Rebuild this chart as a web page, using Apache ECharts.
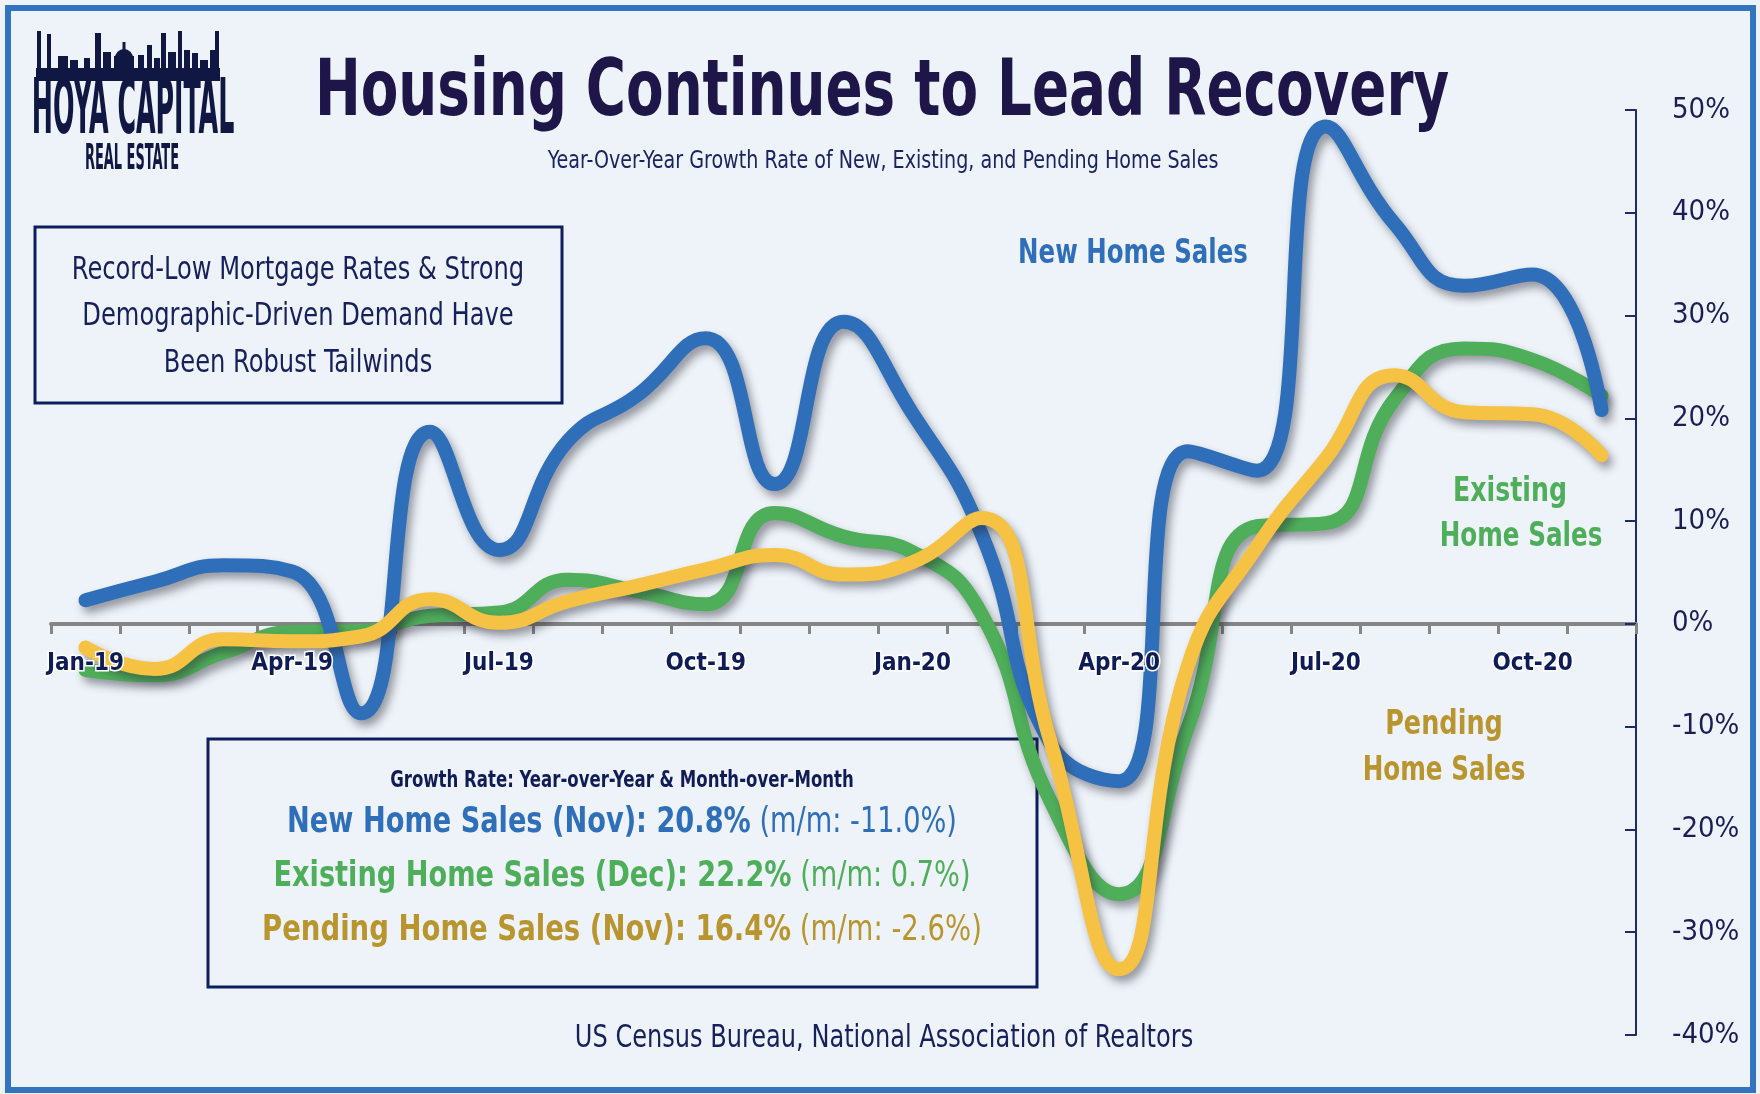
<!DOCTYPE html>
<html>
<head>
<meta charset="utf-8">
<script src="https://cdn.jsdelivr.net/npm/echarts@6/dist/echarts.min.js"></script>
<style>
  html, body { margin: 0; padding: 0; background: #f5f8fc; }
  #chart { width: 1760px; height: 1094px; }
</style>
</head>
<body>
<div id="chart"></div>
<script>
// month categories, Jan-19 .. Nov-20
const months = ['Jan-19', 'Feb-19', 'Mar-19', 'Apr-19', 'May-19', 'Jun-19', 'Jul-19', 'Aug-19', 'Sep-19', 'Oct-19', 'Nov-19', 'Dec-19',
  'Jan-20', 'Feb-20', 'Mar-20', 'Apr-20', 'May-20', 'Jun-20', 'Jul-20', 'Aug-20', 'Sep-20', 'Oct-20', 'Nov-20'];

// year-over-year growth, %
const newHome = [2.3, 4.1, 5.7, 5.1, -8.7, 18.7, 7.2, 17.8, 22.2, 27.8, 13.6, 29.4,
  20.5, 8.8, -11.6, -15.3, 16.8, 14.9, 48.4, 38.9, 32.9, 34.0, 20.8];
const existingHome = [-4.5, -5.0, -2.8, -0.8, -0.7, 0.8, 1.1, 4.3, 3.2, 1.9, 10.8, 8.5,
  7.0, 1.0, -17.2, -26.3, -10.0, 9.5, 9.8, 21.9, 26.8, 25.7, 22.2];
const pendingHome = [-2.3, -4.4, -1.5, -1.7, -1.2, 2.4, 0.1, 2.2, 3.7, 5.3, 6.7, 4.8,
  6.0, 10.3, -11.4, -33.6, -4.0, 7.5, 16.1, 24.2, 20.6, 20.4, 16.4];

const yMin = -40;
const yMax = 50;
const yStep = 10;

const COND = "'DejaVu Sans Condensed', 'Liberation Sans Narrow', sans-serif";
const NAVY = '#16205a';
const BLUE = '#2f6fba';
const GREEN = '#4fae5a';
const YELLOW = '#f5c243';
const GOLD = '#b8952e';

const W = 1760, H = 1094;
const grid = { left: 51, right: 124, top: 110, bottom: 59 };
const gridH = H - grid.top - grid.bottom;
// second x axis (labels only) sits on the zero line, above the series
const labelAxisOffset = -gridH * (0 - yMin) / (yMax - yMin);

const chart = echarts.init(document.getElementById('chart'), null, { renderer: 'canvas' });

function lineSeries(name, data, color, z) {
  return {
    name: name,
    type: 'line',
    data: data,
    smooth: 0.5,
    showSymbol: false,
    z: z,
    lineStyle: {
      color: color,
      width: 14,
      cap: 'round',
      join: 'round',
      shadowColor: 'rgba(40,40,50,0.45)',
      shadowBlur: 8,
      shadowOffsetX: 4,
      shadowOffsetY: 6
    }
  };
}

// condensed text helper: centred at (x, y), squeezed horizontally
function label(text, x, y, font, fill, sx) {
  return {
    type: 'text', x: x, y: y, scaleX: sx,
    style: { text: text, align: 'center', verticalAlign: 'middle', fill: fill, font: font }
  };
}

function richLine(bold, rest, x, y, fill, sx) {
  return {
    type: 'text', x: x, y: y, scaleX: sx,
    style: {
      text: '{b|' + bold + '}{r| ' + rest + '}', align: 'center', verticalAlign: 'middle',
      rich: {
        b: { fill: fill, fontFamily: COND, fontWeight: 'bold', fontSize: 36 },
        r: { fill: fill, fontFamily: COND, fontSize: 36 }
      }
    }
  };
}

// skyline for the logo: [x, top, width]
const towers = [
  [37, 31, 4], [47, 34, 4], [58, 56, 10], [70, 60, 8], [84, 58, 6], [95, 33, 6], [103, 52, 8],
  [114, 56, 20], [138, 55, 6], [147, 45, 5], [154, 58, 6], [161, 33, 5], [168, 52, 8],
  [178, 31, 4], [184, 50, 6], [192, 53, 6], [200, 60, 8], [210, 50, 5], [215, 31, 4]
];
const skyline = towers.map(t => ({
  type: 'rect', shape: { x: t[0], y: t[1], width: t[2], height: 80 - t[1] },
  style: { fill: '#0f1742' }
}));
skyline.push({ type: 'rect', shape: { x: 36, y: 68, width: 184, height: 13 }, style: { fill: '#0f1742' } });
skyline.push({ type: 'circle', shape: { cx: 124, cy: 58, r: 9 }, style: { fill: '#0f1742' } });
skyline.push({ type: 'rect', shape: { x: 122.5, y: 42, width: 3, height: 10 }, style: { fill: '#0f1742' } });

const option = {
  backgroundColor: '#eef3f9',
  animation: false,
  grid: Object.assign({ containLabel: false, outerBoundsMode: 'none' }, grid),
  xAxis: [
    {
      type: 'category',
      data: months,
      boundaryGap: true,
      axisLine: { onZero: true, lineStyle: { color: '#858585', width: 4 } },
      axisTick: { show: true, interval: 0, length: 10, lineStyle: { color: '#858585', width: 3 } },
      axisLabel: { show: false },
      splitLine: { show: false }
    },
    {
      type: 'category',
      data: months,
      boundaryGap: true,
      position: 'bottom',
      offset: labelAxisOffset,
      z: 10,
      axisLine: { show: false, onZero: false },
      axisTick: { show: false },
      splitLine: { show: false },
      axisLabel: {
        interval: 2,
        margin: 28,
        color: '#0f1c55',
        fontFamily: COND,
        fontWeight: 'bold',
        fontSize: 24,
        textBorderColor: '#ffffff',
        textBorderWidth: 3
      }
    }
  ],
  yAxis: {
    type: 'value',
    position: 'right',
    min: yMin,
    max: yMax,
    interval: yStep,
    axisLine: { show: true, lineStyle: { color: '#1d2a6b', width: 2 } },
    axisTick: { show: true, inside: true, length: 11, lineStyle: { color: '#1d2a6b', width: 2 } },
    splitLine: { show: false },
    axisLabel: {
      formatter: '{value}%',
      margin: 36,
      color: '#1d1d55',
      fontFamily: COND,
      fontSize: 29
    }
  },
  series: [
    lineSeries('Existing Home Sales', existingHome, GREEN, 2),
    lineSeries('New Home Sales', newHome, BLUE, 3),
    lineSeries('Pending Home Sales', pendingHome, YELLOW, 4)
  ],
  graphic: [
    // outer frame
    { type: 'rect', z: 0, shape: { x: 8, y: 8, width: 1745, height: 1082 },
      style: { fill: 'none', stroke: '#3374c0', lineWidth: 6 } },
    { type: 'group', children: skyline },
    label('HOYA CAPITAL', 133, 113, 'bold 76px ' + COND, '#0f1742', 0.37),
    label('REAL ESTATE', 132, 160, 'bold 36px ' + COND, '#0f1742', 0.4),
    // title
    label('Housing Continues to Lead Recovery', 882, 95, 'bold 78px ' + COND, '#1e1548', 0.78),
    label('Year-Over-Year Growth Rate of New, Existing, and Pending Home Sales', 883, 161, '25px ' + COND, '#1a2460', 0.85),
    // commentary box
    { type: 'rect', shape: { x: 35, y: 227, width: 527, height: 176 },
      style: { fill: 'none', stroke: '#0c1f5c', lineWidth: 3 } },
    label('Record-Low Mortgage Rates & Strong', 298, 271, '32px ' + COND, NAVY, 0.84),
    label('Demographic-Driven Demand Have', 298, 317, '32px ' + COND, NAVY, 0.84),
    label('Been Robust Tailwinds', 298, 364, '32px ' + COND, NAVY, 0.84),
    // series labels
    label('New Home Sales', 1133, 254, 'bold 34px ' + COND, BLUE, 0.8),
    label('Existing', 1510, 492, 'bold 33px ' + COND, GREEN, 0.85),
    label('Home Sales', 1521, 537, 'bold 33px ' + COND, GREEN, 0.83),
    label('Pending', 1444, 725, 'bold 33px ' + COND, GOLD, 0.86),
    label('Home Sales', 1444, 771, 'bold 33px ' + COND, GOLD, 0.83),
    // growth summary box
    { type: 'rect', shape: { x: 208, y: 739, width: 829, height: 248 },
      style: { fill: 'none', stroke: '#0c1f5c', lineWidth: 3 } },
    label('Growth Rate: Year-over-Year & Month-over-Month', 622, 781, 'bold 23px ' + COND, '#0f1c55', 0.8),
    richLine('New Home Sales (Nov): 20.8%', '(m/m: -11.0%)', 622, 823, BLUE, 0.84),
    richLine('Existing Home Sales (Dec): 22.2%', '(m/m: 0.7%)', 622, 877, GREEN, 0.84),
    richLine('Pending Home Sales (Nov): 16.4%', '(m/m: -2.6%)', 622, 931, GOLD, 0.85),
    // source
    label('US Census Bureau, National Association of Realtors', 884, 1039, '32px ' + COND, '#16205a', 0.836)
  ]
};

chart.setOption(option);
</script>
</body>
</html>
